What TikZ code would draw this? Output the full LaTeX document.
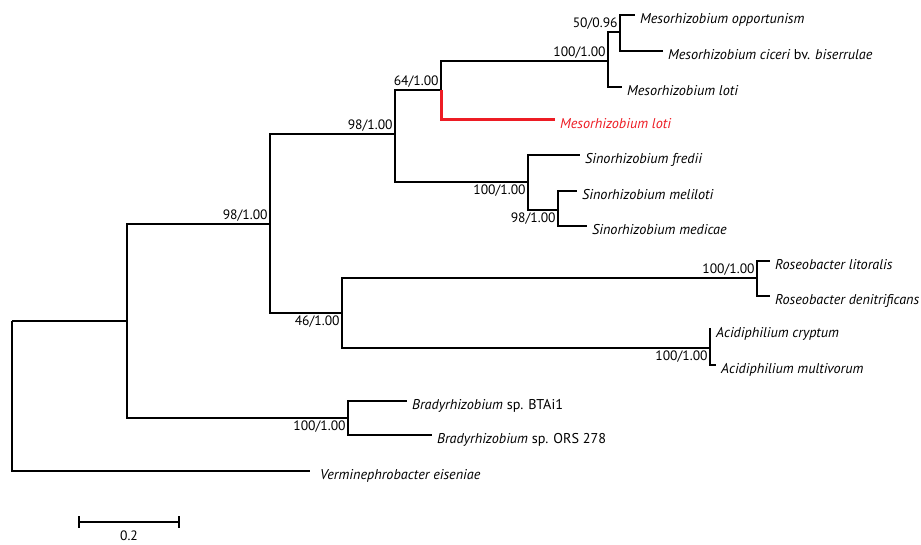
\documentclass[tikz,border=0pt]{standalone}
\usepackage{fontspec}
\setmainfont{PT Sans}
\begin{document}
\begin{tikzpicture}[
    x=1pt, y=-1pt,
    font=\fontsize{13}{15}\selectfont,
    branch/.style={draw=black, line width=1.4pt},
    taxon/.style={anchor=base west, inner sep=0pt, xshift=5pt, yshift=-8.5pt, font=\fontsize{14.2}{16}\selectfont\itshape},
    support/.style={font=\fontsize{13.6}{15}\selectfont, inner sep=2.2pt},
    scalebar/.style={draw=black, line width=1.4pt},
]
    \definecolor{QueryRed}{RGB}{237,28,36}
    \useasboundingbox (0,0) rectangle (921,545);

    % internal nodes
    \coordinate (root) at (12,321);
    \coordinate (A) at (127,321);
    \coordinate (B) at (270,224);
    \coordinate (D) at (395,134);
    \coordinate (E) at (441,90);
    \coordinate (F) at (608,61);
    \coordinate (G) at (620,32);
    \coordinate (S) at (528,182);
    \coordinate (H) at (558,210);
    \coordinate (C) at (342,313);
    \coordinate (R) at (757,278);
    \coordinate (Ac) at (710,348);
    \coordinate (Br) at (348,418);

    % leaf tips
    \coordinate (opp) at (635,15);
    \coordinate (cic) at (663,51);
    \coordinate (mlot) at (622,87);
    \coordinate (query) at (555,120);
    \coordinate (fred) at (580,155);
    \coordinate (meli) at (577,191);
    \coordinate (medi) at (587,226);
    \coordinate (rlit) at (770,261);
    \coordinate (rden) at (770,296);
    \coordinate (acry) at (711,329);
    \coordinate (amul) at (716,365);
    \coordinate (bta) at (407,401);
    \coordinate (ors) at (432,435);
    \coordinate (verm) at (310,471);

    % branches
    \draw[branch] (root) -- (A);
    \draw[branch] (root) |- (verm);
    \draw[branch] (A) |- (B);
    \draw[branch] (A) |- (Br);
    \draw[branch] (Br) |- (bta);
    \draw[branch] (Br) |- (ors);
    \draw[branch] (B) |- (D);
    \draw[branch] (B) |- (C);
    \draw[branch] (D) |- (E);
    \draw[branch] (D) |- (S);
    \draw[branch] (E) |- (F);
    \draw[branch] (F) |- (G);
    \draw[branch] (F) |- (mlot);
    \draw[branch] (G) |- (opp);
    \draw[branch] (G) |- (cic);
    \draw[QueryRed, line width=3pt] (E) |- (query);
    \draw[branch] (S) |- (fred);
    \draw[branch] (S) |- (H);
    \draw[branch] (H) |- (meli);
    \draw[branch] (H) |- (medi);
    \draw[branch] (C) |- (R);
    \draw[branch] (C) |- (Ac);
    \draw[branch] (R) |- (rlit);
    \draw[branch] (R) |- (rden);
    \draw[branch] (Ac) |- (acry);
    \draw[branch] (Ac) |- (amul);

    % taxa
    \node[taxon] (oppL) at (opp) {Mesorhizobium opportunism};
    \node[taxon] (cicL) at (cic) {Mesorhizobium ciceri \upshape bv. \itshape biserrulae};
    \node[taxon] (mlotL) at (mlot) {Mesorhizobium loti};
    \node[taxon, text=QueryRed] (queryL) at (query) {Mesorhizobium loti};
    \node[taxon] (fredL) at (fred) {Sinorhizobium fredii};
    \node[taxon] (meliL) at (meli) {Sinorhizobium meliloti};
    \node[taxon] (mediL) at (medi) {Sinorhizobium medicae};
    \node[taxon] (rlitL) at (rlit) {Roseobacter litoralis};
    \node[taxon] (rdenL) at (rden) {Roseobacter denitrificans};
    \node[taxon] (acryL) at (acry) {Acidiphilium cryptum};
    \node[taxon] (amulL) at (amul) {Acidiphilium multivorum};
    \node[taxon] (btaL) at (bta) {Bradyrhizobium \upshape sp. BTAi1};
    \node[taxon] (orsL) at (ors) {Bradyrhizobium \upshape sp. ORS 278};
    \node[taxon, xshift=5pt] (vermL) at (verm) {Verminephrobacter eiseniae};

    % support values
    \node[support, anchor=south east] (sB) at (B) {98/1.00};
    \node[support, anchor=south east] (sD) at (D) {98/1.00};
    \node[support, anchor=south east] (sE) at (E) {64/1.00};
    \node[support, anchor=south east] (sF) at (F) {100/1.00};
    \node[support, anchor=south east] (sG) at (G) {50/0.96};
    \node[support, anchor=north east] (sS) at (S) {100/1.00};
    \node[support, anchor=north east] (sH) at (H) {98/1.00};
    \node[support, anchor=north east] (sC) at (C) {46/1.00};
    \node[support, anchor=south east] (sR) at (R) {100/1.00};
    \node[support, anchor=north east] (sAc) at (Ac) {100/1.00};
    \node[support, anchor=north east] (sBr) at (Br) {100/1.00};

    % scale bar
    \coordinate (sbL) at (79,522);
    \coordinate (sbR) at (179,522);
    \draw[scalebar] (sbL) -- (sbR);
    \draw[scalebar] ([yshift=6pt]sbL) -- ([yshift=-6pt]sbL);
    \draw[scalebar] ([yshift=6pt]sbR) -- ([yshift=-6pt]sbR);
    \node[support, anchor=north] (sbLabel) at (129,528) {0.2};
\end{tikzpicture}
\end{document}
